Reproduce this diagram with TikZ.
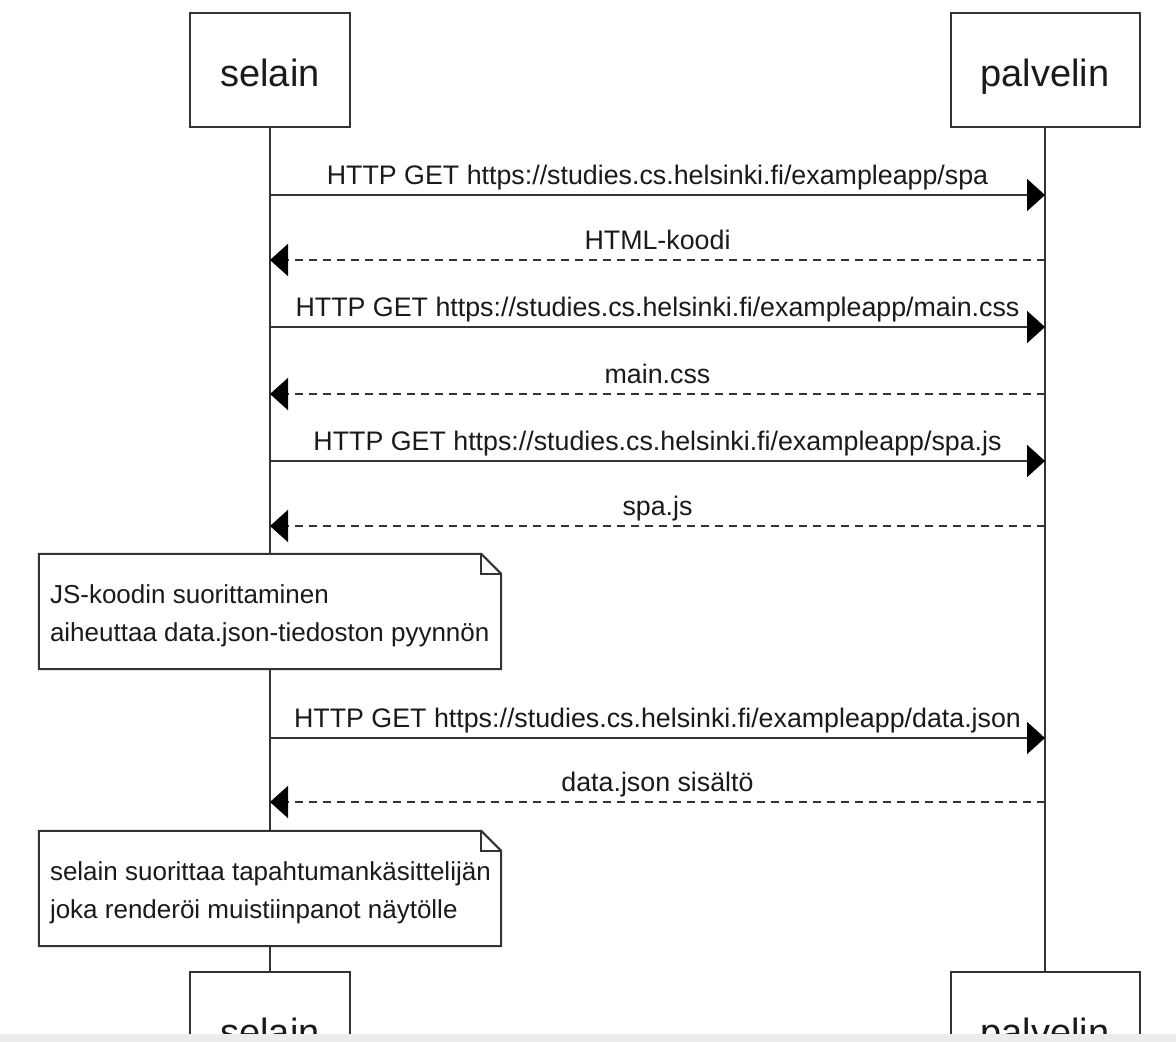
\documentclass[tikz,border=0pt]{standalone}
\usepackage{fontspec}
\setmainfont{Liberation Sans}
\usetikzlibrary{arrows.meta,calc}
\definecolor{ink}{HTML}{333333}
\definecolor{txt}{HTML}{1A1A1A}
\definecolor{barfill}{HTML}{ECECEC}
\begin{document}
\begin{tikzpicture}[x=1pt,y=-1pt,
  actor/.style={draw=ink, line width=2pt, fill=white, text=txt,
    minimum height=114pt, inner sep=0pt, text height=38pt, text depth=6pt,
    font=\fontsize{38}{44}\selectfont},
  lifeline/.style={draw=ink, line width=2pt},
  call/.style={draw=ink, line width=2pt,
    -{Triangle[length=18pt,width=32pt,color=black]}},
  reply/.style={call, dash pattern=on 8pt off 6pt},
  msg/.style={font=\fontsize{26.8}{30}\selectfont, text=txt, anchor=base,
    inner sep=0pt, yshift=11pt},
  notebox/.style={fill=white, minimum width=462pt, minimum height=115pt,
    inner sep=0pt},
  notetext/.style={text=txt, align=left, anchor=west, inner sep=0pt,
    xshift=11pt, yshift=-4.5pt, font=\fontsize{26}{38}\selectfont},
  noteline/.style={draw=ink, line width=2pt, line join=miter}
]
\useasboundingbox (0,0) rectangle (1176,1042);
\fill[white] (0,0) rectangle (1176,1042);

% participants, top and bottom
\node[actor, minimum width=160pt] (selTop) at (270,70) {selain};
\node[actor, minimum width=189pt] (palTop) at (1045,70) {palvelin};
\node[actor, minimum width=160pt] (selBot) at (270,1029) {selain};
\node[actor, minimum width=189pt] (palBot) at (1045,1029) {palvelin};

% lifelines
\draw[lifeline] (selTop) -- (selBot);
\draw[lifeline] (palTop) -- (palBot);

% message end points on the lifelines
\foreach \i/\y in {1/195, 2/260, 3/327, 4/394, 5/461, 6/526, 7/738, 8/802} {
  \coordinate (s\i) at (270,\y);
  \coordinate (p\i) at (1045,\y);
}

% requests and responses
\draw[call] (s1) -- (p1) node[midway, msg] {HTTP GET https://studies.cs.helsinki.fi/exampleapp/spa};
\draw[reply] (p2) -- (s2) node[midway, msg] {HTML-koodi};
\draw[call] (s3) -- (p3) node[midway, msg] {HTTP GET https://studies.cs.helsinki.fi/exampleapp/main.css};
\draw[reply] (p4) -- (s4) node[midway, msg] {main.css};
\draw[call] (s5) -- (p5) node[midway, msg] {HTTP GET https://studies.cs.helsinki.fi/exampleapp/spa.js};
\draw[reply] (p6) -- (s6) node[midway, msg] {spa.js};
\draw[call] (s7) -- (p7) node[midway, msg] {HTTP GET https://studies.cs.helsinki.fi/exampleapp/data.json};
\draw[reply] (p8) -- (s8) node[midway, msg] {data.json sisältö};

% notes on the browser lifeline
\node[notebox] (n1) at (270,611.5) {};
\node[notetext] (n1t) at (n1.west) {JS-koodin suorittaminen\\aiheuttaa data.json-tiedoston pyynnön};
\node[notebox] (n2) at (270,888.5) {};
\node[notetext] (n2t) at (n2.west) {selain suorittaa tapahtumankäsittelijän\\joka renderöi muistiinpanot näytölle};
\foreach \n in {n1,n2} {
  \draw[noteline] (\n.north west) -- ($(\n.north east)+(-20,0)$)
    -- ($(\n.north east)+(0,20)$) -- (\n.south east) -- (\n.south west) -- cycle;
  \draw[noteline] ($(\n.north east)+(-20,0)$) -- ($(\n.north east)+(-20,20)$)
    -- ($(\n.north east)+(0,20)$);
}

% grey strip along the lower edge
\fill[barfill] (0,1034) rectangle (1176,1042);
\end{tikzpicture}
\end{document}
